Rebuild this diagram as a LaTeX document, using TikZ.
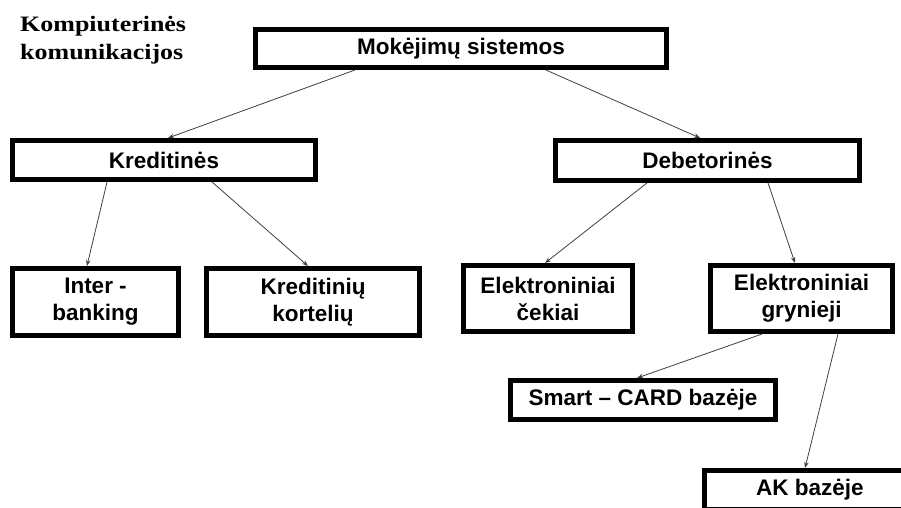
\documentclass[tikz,border=0pt]{standalone}
\usepackage{fontspec}
\setmainfont{Liberation Serif}
\setsansfont{Liberation Sans}
\usetikzlibrary{calc,arrows.meta}
\begin{document}
\begin{tikzpicture}[x=1pt,y=-1pt,
  box/.style={draw=black, line width=5pt, fill=white, inner sep=0pt,
    font=\sffamily\bfseries\fontsize{22.5}{27}\selectfont, align=center},
  conn/.style={draw=black!75, line width=0.8pt, -{Stealth[length=6pt,width=4.5pt]}}]
\useasboundingbox (0,0) rectangle (901,507);
\clip (0,0) rectangle (901,507);
\fill[white] (0,0) rectangle (901,507);

\node[font=\rmfamily\bfseries\fontsize{22}{28}\selectfont, align=left, anchor=north west, inner sep=0pt, xscale=1.18, transform shape] (title) at (20,16) {Kompiuterinės\\komunikacijos};

\node[box, minimum width=411pt, minimum height=38pt] (mok) at (461,48.5) {Mokėjimų sistemos};
\node[box, minimum width=303pt, minimum height=39pt] (kred) at (164,160) {Kreditinės};
\node[box, minimum width=304pt, minimum height=40pt] (deb) at (707.5,160.5) {Debetorinės};
\node[box, minimum width=166pt, minimum height=67pt] (inter) at (95.5,302) {Inter -\\banking};
\node[box, minimum width=213pt, minimum height=67pt] (kort) at (313,302) {Kreditinių\\kortelių};
\node[box, minimum width=169pt, minimum height=66pt] (cek) at (548,298.5) {Elektroniniai\\čekiai};
\node[box, minimum width=182pt, minimum height=66pt] (gryn) at (801.5,298.5) {Elektroniniai\\grynieji};
\node[box, minimum width=265pt, minimum height=39pt] (smart) at (643,400) {Smart – CARD bazėje};
\node[box, minimum width=211pt, minimum height=39pt] (ak) at (810,490) {AK bazėje};

\draw[conn] ($(mok.south west)!0.245!(mok.south east)$) -- ($(kred.north west)!0.513!(kred.north east)$);
\draw[conn] ($(mok.south west)!0.704!(mok.south east)$) -- ($(deb.north west)!0.476!(deb.north east)$);
\draw[conn] ($(kred.south west)!0.315!(kred.south east)$) -- ($(inter.north west)!0.45!(inter.north east)$);
\draw[conn] ($(kred.south west)!0.656!(kred.south east)$) -- ($(kort.north west)!0.477!(kort.north east)$);
\draw[conn] ($(deb.south west)!0.304!(deb.south east)$) -- ($(cek.north west)!0.483!(cek.north east)$);
\draw[conn] ($(deb.south west)!0.696!(deb.south east)$) -- ($(gryn.north west)!0.465!(gryn.north east)$);
\draw[conn] ($(gryn.south west)!0.289!(gryn.south east)$) -- ($(smart.north west)!0.478!(smart.north east)$);
\draw[conn] ($(gryn.south west)!0.695!(gryn.south east)$) -- ($(ak.north west)!0.477!(ak.north east)$);
\end{tikzpicture}
\end{document}
